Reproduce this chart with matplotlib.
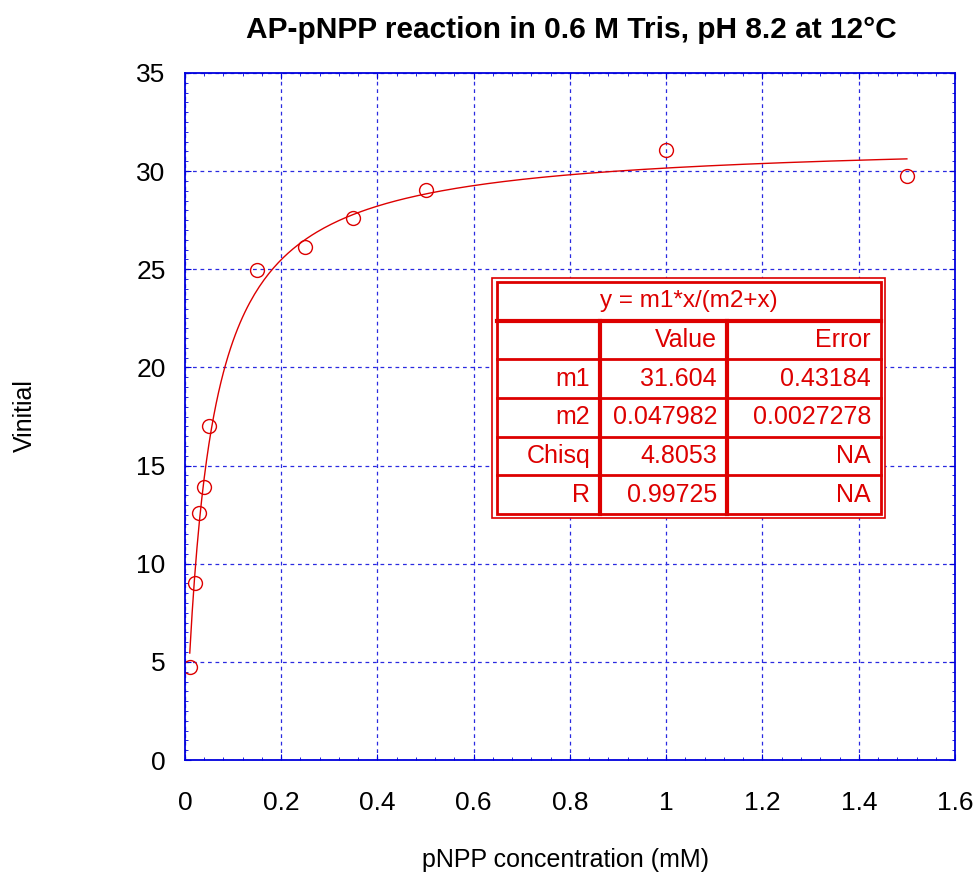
import numpy as np
import matplotlib
matplotlib.use('Agg')
import matplotlib.pyplot as plt
from matplotlib.ticker import AutoMinorLocator

plt.rcParams['font.family'] = ['Liberation Sans', 'DejaVu Sans']

# Measured points
conc_mM = [0.01, 0.02, 0.03, 0.04, 0.05, 0.15, 0.25, 0.35, 0.5, 1.0, 1.5]
v_initial = [4.75, 9.0, 12.6, 13.9, 17.0, 24.95, 26.15, 27.6, 29.05, 31.1, 29.75]

# Fit results shown in the table
fit_names = ['m1', 'm2', 'Chisq', 'R']
fit_values = ['31.604', '0.047982', '4.8053', '0.99725']
fit_errors = ['0.43184', '0.0027278', 'NA', 'NA']
m1, m2 = 31.604, 0.047982

xticks = [0, 0.2, 0.4, 0.6, 0.8, 1, 1.2, 1.4, 1.6]
xtick_labels = ['0', '0.2', '0.4', '0.6', '0.8', '1', '1.2', '1.4', '1.6']
yticks = [0, 5, 10, 15, 20, 25, 30, 35]

red = '#dd0000'
blue = '#0000dd'

fig = plt.figure(figsize=(9.75, 8.75), dpi=100)
ax = fig.add_axes([0.1897, 0.1314, 0.7898, 0.7852])

# fitted curve from table parameters
xf = np.linspace(conc_mM[0], conc_mM[-1], 300)
ax.plot(xf, m1 * xf / (m2 + xf), color=red, lw=1)
ax.plot(conc_mM, v_initial, 'o', mfc='none', mec=red, ms=10, mew=1)

ax.set_xlim(0, 1.6)
ax.set_ylim(0, 35)
ax.set_xticks(xticks)
ax.set_xticklabels(xtick_labels)
ax.set_yticks(yticks)
ax.xaxis.set_minor_locator(AutoMinorLocator(5))
ax.yaxis.set_minor_locator(AutoMinorLocator(10))
ax.tick_params(which='both', direction='in', top=True, right=True, color=blue,
               labelsize=19)
ax.tick_params(axis='x', pad=22)
ax.tick_params(axis='y', pad=14)
ax.tick_params(which='major', length=4)
ax.tick_params(which='minor', length=2)
for s in ax.spines.values():
    s.set_color(blue)
    s.set_linewidth(1.3)
ax.grid(True, color='#2a2ae0', ls=(0, (3, 3)), lw=0.9)

fig.text(571 / 975, 1 - 30 / 875, 'AP-pNPP reaction in 0.6 M Tris, pH 8.2 at 12°C',
         fontsize=21.5, fontweight='bold', ha='center', va='center')
fig.text(565 / 975, 1 - 860 / 875, 'pNPP concentration (mM)', fontsize=18,
         ha='center', va='center')
fig.text(25 / 975, 1 - 416 / 875, 'Vinitial', fontsize=18, rotation=90,
         ha='center', va='center')

# fit results table
rows = [['y = m1*x/(m2+x)', '', ''], ['', 'Value', 'Error']]
for n, v, e in zip(fit_names, fit_values, fit_errors):
    rows.append([n, v, e])
tx0, tx1 = 492 / 975, 885 / 975
ty_top, ty_bot = 1 - 278 / 875, 1 - 518 / 875
fig.patches.append(plt.Rectangle((tx0, ty_bot), tx1 - tx0, ty_top - ty_bot,
                                 transform=fig.transFigure, fc='white',
                                 ec=red, lw=1.2, zorder=5))
ix0, ix1 = 497 / 975, 881 / 975
iy_top, iy_bot = 1 - 282 / 875, 1 - 514 / 875
col_x = [ix0, 600 / 975, 727 / 975, ix1]
nrow = len(rows)
rh = (iy_top - iy_bot) / nrow
fig.patches.append(plt.Rectangle((ix0, iy_bot), ix1 - ix0, iy_top - iy_bot,
                                 transform=fig.transFigure, fc='none',
                                 ec=red, lw=2, zorder=6))
for i in range(1, nrow):
    y = iy_top - i * rh
    fig.add_artist(plt.Line2D([ix0, ix1], [y, y], color=red,
                              lw=3 if i == 1 else 2, zorder=6))
for cx in col_x[1:3]:
    fig.add_artist(plt.Line2D([cx, cx], [iy_bot, iy_top - rh], color=red,
                              lw=3, zorder=6))
fig.text((ix0 + ix1) / 2, iy_top - rh / 2, rows[0][0], color=red, fontsize=17.5,
         ha='center', va='center', zorder=7)
for i in range(1, nrow):
    yc = iy_top - (i + 0.5) * rh
    for j in range(3):
        if rows[i][j]:
            fig.text(col_x[j + 1] - 10 / 975, yc, rows[i][j], color=red,
                     fontsize=18, ha='right', va='center', zorder=7)

fig.savefig('out.png', dpi=100)
